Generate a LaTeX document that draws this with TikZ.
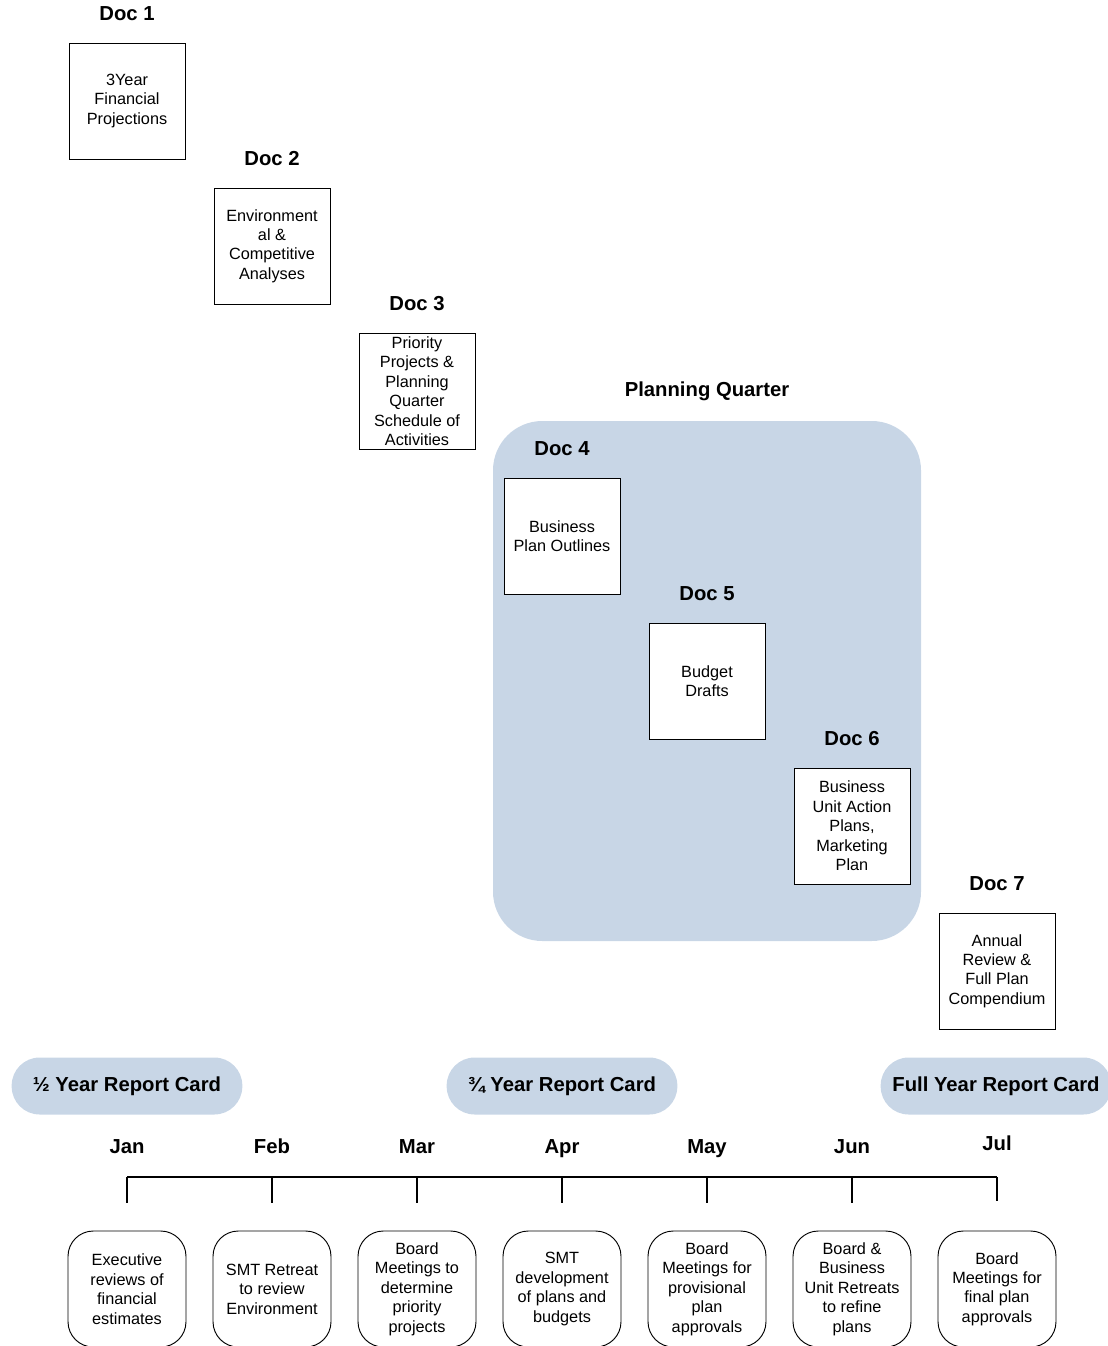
\documentclass[tikz,border=0pt]{standalone}
\usepackage{fontspec}
\setmainfont{Liberation Sans}
\usetikzlibrary{positioning}
\definecolor{pqblue}{RGB}{200,214,230}

\begin{document}
\begin{tikzpicture}[x=0.75pt, y=-0.75pt,
    docbox/.style={draw, line width=0.7pt, fill=white, minimum width=87pt,
        minimum height=87pt, inner sep=0pt, align=center,
        font=\fontsize{12.2}{14.6}\selectfont},
    headfont/.style={font=\fontsize{15.2}{18}\selectfont\bfseries},
    doclabel/.style={headfont, inner sep=0pt},
    month/.style={headfont, inner sep=0pt, anchor=base},
    card/.style={headfont, fill=pqblue, rounded corners=21pt,
        minimum width=173pt, minimum height=42.75pt},
    task/.style={draw, line width=0.7pt, rounded corners=19pt, minimum width=88.5pt,
        minimum height=87pt, inner sep=0pt, align=center,
        font=\fontsize{12.2}{14.6}\selectfont},
    tick/.style={line width=0.9pt}]
    \useasboundingbox (0,0) rectangle (1107,1346);

    % planning quarter
    \node[fill=pqblue, rounded corners=37pt, minimum width=321pt, minimum height=390pt] (pq) at (707,681) {};
    \node[doclabel, above=15pt of pq] (pqlabel) {Planning Quarter};

    % documents
    \node[docbox] (d1) at (127,101) {3Year\\Financial\\Projections};
    \node[docbox, below right=21.05pt and 21.05pt of d1] (d2) {Environment\\al \&\\Competitive\\Analyses};
    \node[docbox, below right=21.05pt and 21.05pt of d2] (d3) {Priority\\Projects \&\\Planning\\Quarter\\Schedule of\\Activities};
    \node[docbox, below right=21.05pt and 21.05pt of d3] (d4) {Business\\Plan Outlines};
    \node[docbox, below right=21.05pt and 21.05pt of d4] (d5) {Budget\\Drafts};
    \node[docbox, below right=21.05pt and 21.05pt of d5] (d6) {Business\\Unit Action\\Plans,\\Marketing\\Plan};
    \node[docbox, below right=21.05pt and 21.05pt of d6] (d7) {Annual\\Review \&\\Full Plan\\Compendium};

    \node[doclabel, above=16pt of d1] (l1) {Doc 1};
    \node[doclabel, above=16pt of d2] (l2) {Doc 2};
    \node[doclabel, above=16pt of d3] (l3) {Doc 3};
    \node[doclabel, above=16pt of d4] (l4) {Doc 4};
    \node[doclabel, above=16pt of d5] (l5) {Doc 5};
    \node[doclabel, above=16pt of d6] (l6) {Doc 6};
    \node[doclabel, above=16pt of d7] (l7) {Doc 7};

    % report cards
    \node[card] (rc1) at (127,1086) {½ Year Report Card};
    \node[card] (rc2) at (562,1086) {¾ Year Report Card};
    \node[card] (rc3) at (996,1086) {Full Year Report Card};

    % months
    \node[month] (jan) at (127,1153) {Jan};
    \node[month] (feb) at (272,1153) {Feb};
    \node[month] (mar) at (417,1153) {Mar};
    \node[month] (apr) at (562,1153) {Apr};
    \node[month] (may) at (707,1153) {May};
    \node[month] (jun) at (852,1153) {Jun};
    \node[month] (jul) at (997,1150) {Jul};

    % timeline
    \coordinate (b1) at (127,1177);
    \coordinate (b2) at (272,1177);
    \coordinate (b3) at (417,1177);
    \coordinate (b4) at (562,1177);
    \coordinate (b5) at (707,1177);
    \coordinate (b6) at (852,1177);
    \coordinate (b7) at (997,1177);
    \draw[tick] (b1) -- (b7);
    \draw[tick] (b1) -- ++(0,26);
    \draw[tick] (b2) -- ++(0,26);
    \draw[tick] (b3) -- ++(0,26);
    \draw[tick] (b4) -- ++(0,26);
    \draw[tick] (b5) -- ++(0,26);
    \draw[tick] (b6) -- ++(0,26);
    \draw[tick] (b7) -- ++(0,24);

    % activities
    \node[task] (a1) at (127,1289) {Executive\\reviews of\\financial\\estimates};
    \node[task] (a2) at (272,1289) {SMT Retreat\\to review\\Environment};
    \node[task] (a3) at (417,1289) {Board\\Meetings to\\determine\\priority\\projects};
    \node[task] (a4) at (562,1289) {SMT\\development\\of plans and\\budgets};
    \node[task] (a5) at (707,1289) {Board\\Meetings for\\provisional\\plan\\approvals};
    \node[task] (a6) at (852,1289) {Board \&\\Business\\Unit Retreats\\to refine\\plans};
    \node[task] (a7) at (997,1289) {Board\\Meetings for\\final plan\\approvals};
\end{tikzpicture}
\end{document}
